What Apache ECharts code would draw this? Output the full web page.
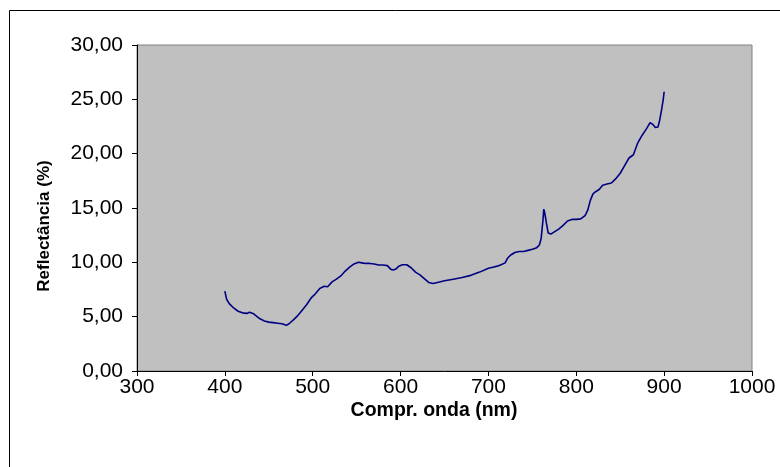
<!DOCTYPE html>
<html>
<head>
<meta charset="utf-8">
<script src="https://cdn.jsdelivr.net/npm/echarts@6/dist/echarts.min.js"></script>
<style>
html,body{margin:0;padding:0;background:#fff;}
#chart{width:780px;height:467px;}
</style>
</head>
<body>
<div id="chart"></div>
<script>
const wavelength = [400,402,405,410,415,420,425,428,432,436,440,445,450,455,460,465,470,473,478,483,488,493,498,503,508,513,517,522,527,532,537,542,547,552,556,560,565,570,575,580,585,589,592,595,598,602,607,612,617,622,627,632,637,642,650,660,670,680,690,700,705,710,715,719,722,725,730,735,740,745,750,755,758,760,762,763,764,766,768,771,775,780,785,790,795,800,805,810,813,816,819,822,826,830,835,840,845,850,855,860,865,870,875,880,884,887,890,893,895,897,899,900];
const reflectance = [7.35,6.6,6.2,5.8,5.5,5.35,5.3,5.4,5.3,5.05,4.8,4.6,4.5,4.45,4.4,4.35,4.2,4.35,4.7,5.1,5.6,6.1,6.7,7.1,7.6,7.8,7.75,8.2,8.45,8.75,9.2,9.55,9.85,10.0,9.95,9.9,9.9,9.85,9.75,9.75,9.7,9.35,9.3,9.4,9.65,9.78,9.78,9.5,9.1,8.85,8.5,8.15,8.05,8.15,8.3,8.45,8.6,8.8,9.1,9.45,9.55,9.65,9.8,9.95,10.4,10.65,10.9,11.0,11.0,11.1,11.2,11.35,11.6,12.2,13.8,14.9,14.6,13.6,12.7,12.6,12.8,13.05,13.4,13.8,13.95,13.95,14.0,14.3,14.8,15.7,16.3,16.5,16.7,17.1,17.2,17.3,17.7,18.2,18.9,19.6,19.9,21.0,21.7,22.3,22.85,22.7,22.4,22.45,23.1,24.0,25.0,25.7];
const xTitle = 'Compr. onda (nm)';
const yTitle = 'Reflectância (%)';

const points = wavelength.map((w, i) => [w, reflectance[i]]);
const font = 'Liberation Sans, Arial, sans-serif';

const chart = echarts.init(document.getElementById('chart'), null, {renderer: 'canvas'});
chart.setOption({
  animation: false,
  backgroundColor: '#ffffff',
  grid: {left: 137, right: 28, top: 45, bottom: 96, show: true, backgroundColor: '#c0c0c0', borderColor: '#808080', borderWidth: 1},
  graphic: [{
    type: 'rect', shape: {x: 9.5, y: 10.5, width: 900, height: 700},
    style: {fill: 'none', stroke: '#000', lineWidth: 1}, silent: true, z: -10
  }, {
    type: 'text', x: 434, y: 411, silent: true,
    style: {text: xTitle, font: 'bold 19.5px Liberation Sans, Arial, sans-serif', fill: '#000', align: 'center', verticalAlign: 'middle'}
  }, {
    type: 'text', x: 44, y: 226, rotation: Math.PI / 2, silent: true,
    style: {text: yTitle, font: 'bold 17px Liberation Sans, Arial, sans-serif', fill: '#000', align: 'center', verticalAlign: 'middle'}
  }],
  xAxis: {
    type: 'value', min: 300, max: 1000, interval: 100,
    axisLine: {show: true, onZero: false, lineStyle: {color: '#000', width: 1}},
    axisTick: {show: true, inside: false, length: 5, lineStyle: {color: '#000'}},
    axisLabel: {fontFamily: font, fontSize: 21, color: '#000', margin: 6,
      formatter: v => String(v)},
    splitLine: {show: false}
  },
  yAxis: {
    type: 'value', min: 0, max: 30, interval: 5,
    axisLine: {show: true, lineStyle: {color: '#000', width: 1}},
    axisTick: {show: true, inside: false, length: 5, lineStyle: {color: '#000'}},
    axisLabel: {fontFamily: font, fontSize: 21, color: '#000', margin: 14,
      formatter: v => v.toFixed(2).replace('.', ',')},
    splitLine: {show: false}
  },
  series: [{
    type: 'line', data: points, showSymbol: false, symbol: 'none',
    lineStyle: {color: '#000080', width: 1.6}
  }]
});
</script>
</body>
</html>
